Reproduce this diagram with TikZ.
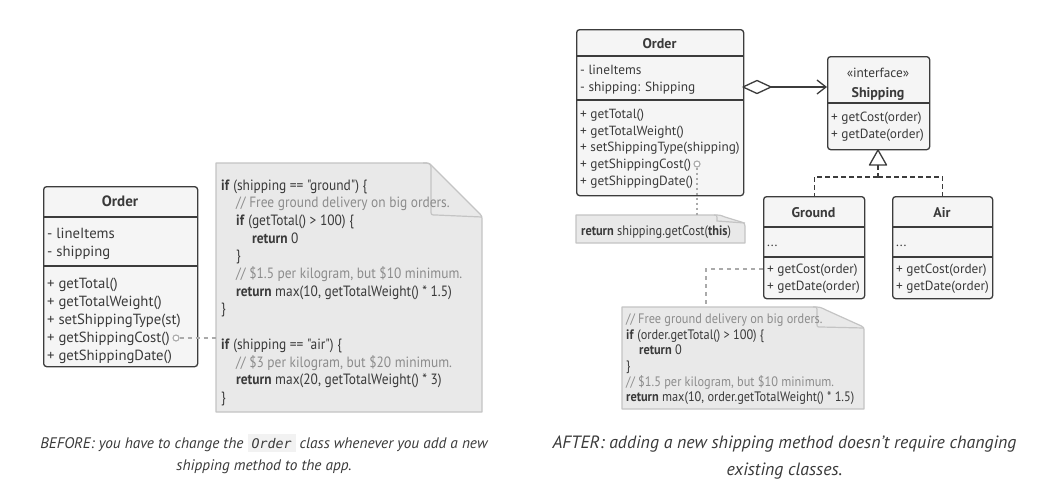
\documentclass[tikz,border=0pt]{standalone}
\usepackage{fontspec}
\setmainfont{PT Sans}
\newfontfamily\nar{PT Sans}[FakeStretch=0.9]
\newfontfamily\monof{DejaVu Sans Mono}
\usetikzlibrary{arrows.meta}
\definecolor{cdark}{HTML}{3C3C3C}
\definecolor{cfill}{HTML}{F5F5F5}
\definecolor{nfill}{HTML}{E9E9E9}
\definecolor{nborder}{HTML}{C4C4C4}
\definecolor{ctext}{HTML}{3A3A3A}
\definecolor{ccomment}{HTML}{8C8C8C}
\definecolor{cconn}{HTML}{AAAAAA}
\definecolor{codebg}{HTML}{F2F2F2}
\newcommand\cmt[1]{\textcolor{ccomment}{#1}}
\newcommand\kw[1]{\textbf{#1}}
\tikzset{
  clsbox/.style={draw=cdark, line width=1.3pt, fill=cfill, rounded corners=3pt, inner sep=0pt, anchor=north west},
  sepline/.style={draw=cdark, line width=1.3pt},
  ltxt/.style={anchor=base west, inner sep=0pt, text=ctext, font=\fontsize{14.7}{16}\selectfont},
  stxt/.style={anchor=base west, inner sep=0pt, text=ctext, font=\fontsize{13.3}{15}\selectfont},
  ltitle/.style={anchor=base, inner sep=0pt, text=ctext, font=\fontsize{15}{17}\selectfont\bfseries},
  stitle/.style={anchor=base, inner sep=0pt, text=ctext, font=\fontsize{14}{16}\selectfont\bfseries},
  lnote/.style={anchor=base west, inner sep=0pt, text=ctext, font=\nar\fontsize{14.9}{16}\selectfont},
  snote/.style={anchor=base west, inner sep=0pt, text=ctext, font=\nar\fontsize{13.7}{15}\selectfont},
  notebox/.style={fill=nfill, draw=nborder, line width=1.2pt, line join=round},
  flapline/.style={draw=nborder, line width=1.2pt},
  connline/.style={draw=cconn, line width=1.2pt, dash pattern=on 4pt off 4pt},
  dotline/.style={draw=cconn, line width=1.2pt, dash pattern=on 2pt off 3pt},
  pincirc/.style={circle, draw=cconn, line width=1.1pt, fill=white, inner sep=0pt, minimum size=6pt},
  realline/.style={draw=cdark, line width=1.2pt, dash pattern=on 5pt off 3pt},
  captxt/.style={anchor=base, inner sep=0pt, text=ctext, font=\fontsize{15.3}{18}\selectfont\itshape},
  captxtb/.style={anchor=base, inner sep=0pt, text=ctext, font=\fontsize{17.8}{20}\selectfont\itshape},
}
\begin{document}
\begin{tikzpicture}[x=1pt,y=-1pt]
\useasboundingbox (0,0) rectangle (1051,499);
\fill[white] (0,0) rectangle (1051,499);

% ===================== LEFT (BEFORE) =====================
\node[clsbox, minimum width=154pt, minimum height=180pt] (lo) at (43,186) {};
\draw[sepline] (43,217) -- (197,217);
\draw[sepline] (43,266) -- (197,266);
\node[ltitle] (loT) at (120,206) {Order};
\node[ltxt] (lo1) at (47,238) {- lineItems};
\node[ltxt] (lo2) at (47,256) {- shipping};
\node[ltxt] (lo3) at (47,288) {+ getTotal()};
\node[ltxt] (lo4) at (47,306) {+ getTotalWeight()};
\node[ltxt] (lo5) at (47,324) {+ setShippingType(st)};
\node[ltxt] (lo6) at (47,342) {+ getShippingCost()};
\node[ltxt] (lo7) at (47,360) {+ getShippingDate()};

% left note
\path[notebox] (216,163) -- (423,163) .. controls (429,163) .. (433,167) -- (478,212) .. controls (482,216) .. (482,221) -- (482,412) -- (216,412) -- cycle;
\draw[flapline] (423,163) .. controls (431,163) .. (431,171) -- (431,210) .. controls (431,215) .. (436,215) -- (482,217);
\coordinate (lnIn) at (216,338);
\node[lnote] (ln1) at (221,190) {\kw{if} (shipping == "ground") \{};
\node[lnote] (ln2) at (236,207.7) {\cmt{// Free ground delivery on big orders.}};
\node[lnote] (ln3) at (236,225.4) {\kw{if} (getTotal() > 100) \{};
\node[lnote] (ln4) at (252,243.1) {\kw{return} 0};
\node[lnote] (ln5) at (236,260.8) {\}};
\node[lnote] (ln6) at (236,278.5) {\cmt{// \$1.5 per kilogram, but \$10 minimum.}};
\node[lnote] (ln7) at (236,296.2) {\kw{return} max(10, getTotalWeight() * 1.5)};
\node[lnote] (ln8) at (221,313.9) {\}};
\node[lnote] (ln9) at (221,349.3) {\kw{if} (shipping == "air") \{};
\node[lnote] (ln10) at (236,367) {\cmt{// \$3 per kilogram, but \$20 minimum.}};
\node[lnote] (ln11) at (236,384.7) {\kw{return} max(20, getTotalWeight() * 3)};
\node[lnote] (ln12) at (221,402.4) {\}};

\node[pincirc] (lpin) at (176,338) {};
\draw[connline] (lpin.east) -- (lnIn);

% caption left
\node[captxt] (lcap1) at (264,448) {BEFORE: you have to change the {\setlength\fboxsep{4pt}\colorbox{codebg}{\monof\fontsize{13.3}{15}\selectfont\color{ctext}Order}} class whenever you add a new};
\node[captxt] (lcap2) at (264,470) {shipping method to the app.};

% ===================== RIGHT (AFTER) =====================
\node[clsbox, minimum width=167pt, minimum height=166pt] (ro) at (576,29) {};
\draw[sepline] (576,56) -- (743,56);
\draw[sepline] (576,100) -- (743,100);
\node[stitle] (roT) at (659.5,48.5) {Order};
\node[stxt] (ro1) at (580,74.5) {- lineItems};
\node[stxt] (ro2) at (580,91.5) {- shipping: Shipping};
\node[stxt] (ro3) at (580,118.5) {+ getTotal()};
\node[stxt] (ro4) at (580,135) {+ getTotalWeight()};
\node[stxt] (ro5) at (580,151.5) {+ setShippingType(shipping)};
\node[stxt] (ro6) at (580,168) {+ getShippingCost()};
\node[stxt] (ro7) at (580,185) {+ getShippingDate()};

% Shipping interface
\node[clsbox, minimum width=102pt, minimum height=93pt] (sh) at (827,56) {};
\draw[sepline] (827,103) -- (929,103);
\node[anchor=base, inner sep=0pt, text=ctext, font=\fontsize{13.3}{15}\selectfont] (shS) at (878,77.5) {«interface»};
\node[stitle] (shT) at (878,97) {Shipping};
\node[stxt] (sh1) at (831,121.5) {+ getCost(order)};
\node[stxt] (sh2) at (831,138) {+ getDate(order)};

% Ground
\node[clsbox, minimum width=101pt, minimum height=102pt] (gr) at (763,196) {};
\draw[sepline] (763,227) -- (864,227);
\draw[sepline] (763,257) -- (864,257);
\node[stitle] (grT) at (813.5,217) {Ground};
\node[stxt] (gr0) at (767,246) {...};
\node[stxt] (gr1) at (767,273.5) {+ getCost(order)};
\node[stxt] (gr2) at (767,290.5) {+ getDate(order)};

% Air
\node[clsbox, minimum width=100pt, minimum height=102pt] (air) at (892,196) {};
\draw[sepline] (892,227) -- (992,227);
\draw[sepline] (892,257) -- (992,257);
\node[stitle] (airT) at (942,217) {Air};
\node[stxt] (air0) at (896,246) {...};
\node[stxt] (air1) at (896,273.5) {+ getCost(order)};
\node[stxt] (air2) at (896,290.5) {+ getDate(order)};

% aggregation
\coordinate (aggA) at (743,87);
\coordinate (aggB) at (771,87);
\coordinate (aggT) at (827,87);
\draw[draw=cdark, line width=1.3pt, fill=white, line join=round] (aggA) -- (757,80.5) -- (aggB) -- (757,93.5) -- cycle;
\draw[draw=cdark, line width=1.3pt, -{Straight Barb[length=9pt,width=14pt,line width=1.3pt]}] (aggB) -- (aggT);

% realization
\coordinate (triA) at (878,150);
\coordinate (triB) at (878,165);
\coordinate (bus) at (878,177);
\draw[draw=cdark, line width=1.3pt, fill=white, line join=round] (triA) -- (869.5,165) -- (886.5,165) -- cycle;
\draw[realline] (triB) -- (bus);
\draw[realline] (bus) -| (gr.north);
\draw[realline] (bus) -| (air.north);

% small note
\path[notebox] (576,215) -- (714,215) .. controls (720,215) .. (725,217) -- (738,221) .. controls (745,223) .. (745,226) -- (745,243) -- (576,243) -- cycle;
\draw[flapline] (714,215) .. controls (717,215) .. (717,218) -- (717,221) -- (745,223);
\node[snote] (sn1) at (581,235) {\kw{return} shipping.getCost(\kw{this})};
\coordinate (snIn) at (697,215);
\node[pincirc] (rpin) at (697,164) {};
\draw[dotline] (rpin.south) -- (snIn);

% ground note
\path[notebox] (622,307) -- (813,307) .. controls (820,307) .. (826,310) -- (857,324) .. controls (864,327) .. (864,332) -- (864,409) -- (622,409) -- cycle;
\draw[flapline] (813,307) .. controls (817,307) .. (817,312) -- (817,323) .. controls (817,327) .. (821,327) -- (864,328);
\node[snote] (gn1) at (626,323) {\cmt{// Free ground delivery on big orders.}};
\node[snote] (gn2) at (626,339) {\kw{if} (order.getTotal() > 100) \{};
\node[snote] (gn3) at (639,354) {\kw{return} 0};
\node[snote] (gn4) at (626,370) {\}};
\node[snote] (gn5) at (626,386) {\cmt{// \$1.5 per kilogram, but \$10 minimum.}};
\node[snote] (gn6) at (626,401) {\kw{return} max(10, order.getTotalWeight() * 1.5)};
\coordinate (gIn) at (763,269);
\coordinate (gnTop) at (706,307);
\draw[connline] (gIn) -| (gnTop);

% caption right
\node[captxtb] (rcap1) at (784.5,448) {AFTER: adding a new shipping method doesn’t require changing};
\node[captxtb] (rcap2) at (784.5,475) {existing classes.};
\end{tikzpicture}
\end{document}
